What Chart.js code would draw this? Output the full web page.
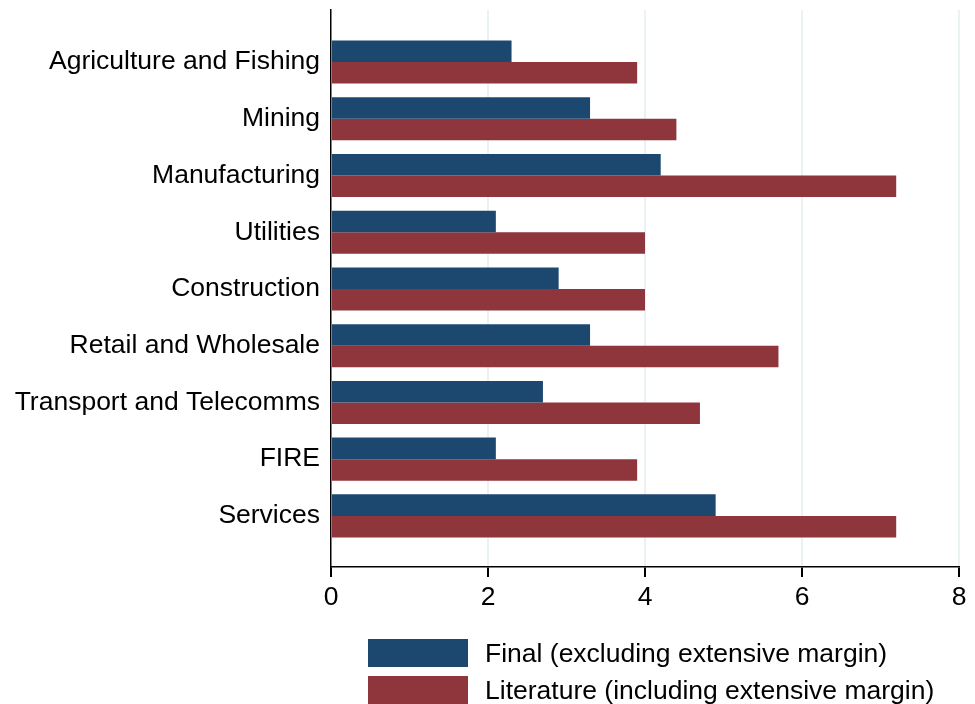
<!DOCTYPE html>
<html>
<head>
<meta charset="utf-8">
<script src="https://cdn.jsdelivr.net/npm/chart.js@4.4.0/dist/chart.umd.min.js"></script>
<style>
  html, body { margin: 0; padding: 0; background: #fff; }
  #wrap { position: relative; width: 975px; height: 704px; overflow: hidden; }
  #legend { position: absolute; left: 368px; top: 639px; font-family: "Liberation Sans", Arial, sans-serif; font-size: 26.5px; color: #000; }
  .item { display: flex; align-items: center; height: 28px; margin-bottom: 9px; }
  .box { width: 100px; height: 28px; margin-right: 17px; }
</style>
</head>
<body>
<div id="wrap">
  <canvas id="sectorChart" width="975" height="704"></canvas>
  <div id="legend"></div>
</div>
<script>
// sectors, top to bottom
const sectors = ['Agriculture and Fishing', 'Mining', 'Manufacturing', 'Utilities', 'Construction',
    'Retail and Wholesale', 'Transport and Telecomms', 'FIRE', 'Services'];
const finalVals = [2.3, 3.3, 4.2, 2.1, 2.9, 3.3, 2.7, 2.1, 4.9];
const literatureVals = [3.9, 4.4, 7.2, 4.0, 4.0, 5.7, 4.7, 3.9, 7.2];
const seriesNames = ['Final (excluding extensive margin)', 'Literature (including extensive margin)'];
const xTicks = [0, 2, 4, 6, 8];

const blue = '#1c4870';
const red = '#8f353c';
const font = { family: '"Liberation Sans", Arial, sans-serif', size: 26.5 };

function toPoints(vals) {
    return vals.map((v, i) => ({ x: v, y: i }));
}

const datasets = [
    { label: seriesNames[0], data: toPoints(finalVals), backgroundColor: blue },
    { label: seriesNames[1], data: toPoints(literatureVals), backgroundColor: red }
];

new Chart(document.getElementById('sectorChart').getContext('2d'), {
    type: 'bar',
    data: { datasets: datasets },
    options: {
        indexAxis: 'y',
        responsive: false,
        animation: false,
        categoryPercentage: 0.76,
        barPercentage: 1,
        layout: { padding: { top: 10, right: 16, bottom: 0, left: 0 } },
        plugins: { legend: { display: false }, tooltip: { enabled: false } },
        scales: {
            y: {
                type: 'linear',
                reverse: true,
                offset: false,
                min: -0.916,
                max: 8.9,
                afterBuildTicks: (scale) => { scale.ticks = sectors.map((_, i) => ({ value: i })); },
                afterFit: (scale) => {
                    scale.width = 331;
                    scale.paddingTop = 0;
                    scale.paddingBottom = 0;
                },
                grid: { display: false, drawTicks: false },
                border: { display: true, color: '#000', width: 1.5 },
                ticks: {
                    color: '#000',
                    font: font,
                    padding: 11,
                    callback: (v) => sectors[v]
                }
            },
            x: {
                type: 'linear',
                min: xTicks[0],
                max: xTicks[xTicks.length - 1],
                afterBuildTicks: (scale) => { scale.ticks = xTicks.map(v => ({ value: v })); },
                afterFit: (scale) => { scale.height = 704 - 567; },
                grid: {
                    color: (c) => (c.tick && c.tick.value === 0) ? 'rgba(0,0,0,0)' : '#eaf2f3',
                    lineWidth: 2,
                    tickColor: '#000',
                    tickWidth: 2,
                    tickLength: 10
                },
                border: { display: true, color: '#000', width: 1.5 },
                ticks: { color: '#000', font: font, padding: 5 }
            }
        }
    }
});

// legend below the plot, swatches left-aligned
const legend = document.getElementById('legend');
datasets.forEach(ds => {
    const item = document.createElement('div');
    item.className = 'item';
    const box = document.createElement('span');
    box.className = 'box';
    box.style.background = ds.backgroundColor;
    const txt = document.createElement('span');
    txt.textContent = ds.label;
    item.appendChild(box);
    item.appendChild(txt);
    legend.appendChild(item);
});
</script>
</body>
</html>
